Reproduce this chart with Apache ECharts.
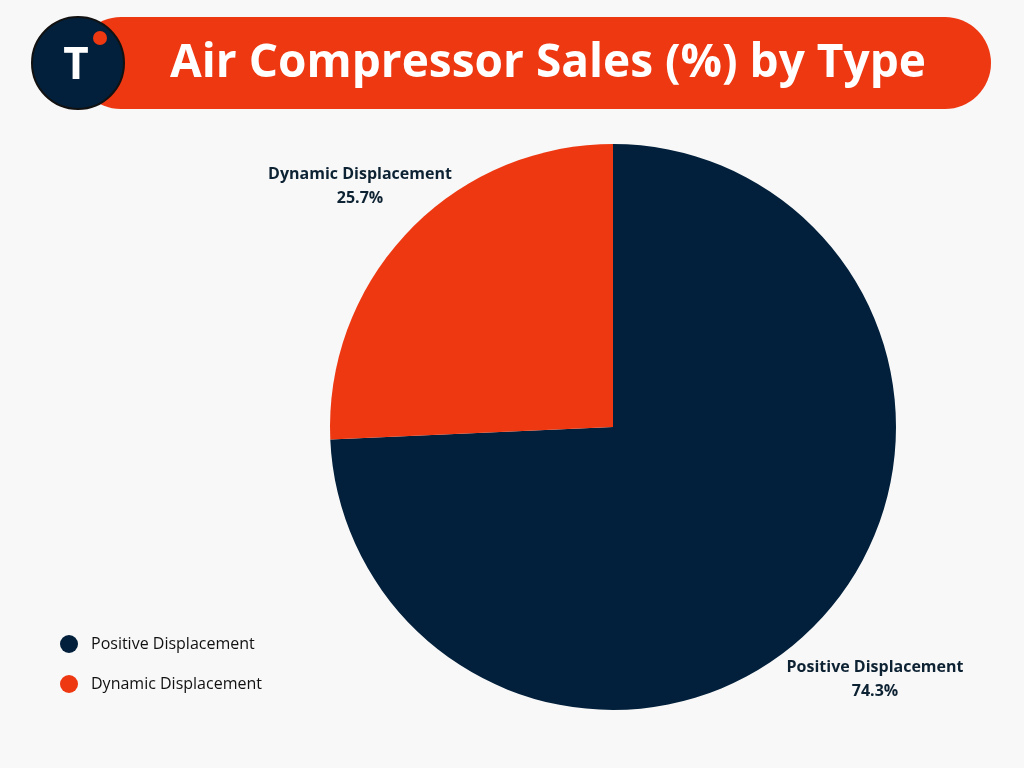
<!DOCTYPE html>
<html><head><meta charset="utf-8">
<script src="https://cdn.jsdelivr.net/npm/echarts@6/dist/echarts.min.js"></script>
<style>html,body{margin:0;background:#f8f8f8}#c{width:1024px;height:768px}</style>
</head><body><div id="c"></div>
<script>
const categories = ['Positive Displacement', 'Dynamic Displacement'];
const values = [74.3, 25.7];
const colors = ['#02203b', '#ee3811'];
const title = 'Air Compressor Sales (%) by Type';

const chart = echarts.init(document.getElementById('c'));
chart.setOption({
  backgroundColor: '#f8f8f8',
  color: colors,
  graphic: [
    {type:'rect', shape:{x:75,y:17,width:916,height:92,r:46}, style:{fill:'#ee3811'}},
    {type:'text', style:{text:title, x:548, y:64, align:'center', verticalAlign:'middle',
      font:'bold 46px "Open Sans", Lato, sans-serif', fill:'#ffffff'}},
    {type:'circle', shape:{cx:78,cy:63,r:46}, style:{fill:'#02203b', stroke:'#111', lineWidth:2}},
    {type:'text', style:{text:'T', x:76, y:66, align:'center', verticalAlign:'middle',
      font:'bold 44px "Open Sans", sans-serif', fill:'#ffffff'}},
    {type:'circle', shape:{cx:100,cy:38,r:7}, style:{fill:'#ee3811'}}
  ],
  legend: {
    orient:'vertical', left:55, top:630, itemGap:22, icon:'circle', itemWidth:18, itemHeight:18,
    textStyle:{fontSize:16, color:'#111', fontFamily:'"Open Sans", sans-serif', padding:[0,0,0,8]},
    data: categories
  },
  series: [{
    type:'pie', center:[613,427], radius:283, startAngle:90, clockwise:true,
    data: categories.map((n,i)=>({name:n, value:values[i]})),
    label:{show:true, position:'outside', formatter:'{b}\n{c}%', color:'#0d2233',
      fontSize:16, fontWeight:'bold', lineHeight:24, align:'center', fontFamily:'"Open Sans", sans-serif'},
    labelLine:{show:false, length:15, length2:0},
    labelLayout: function(p){
      return p.dataIndex === 0 ? {x:875, y:679, align:'center', verticalAlign:'middle'}
                               : {x:360, y:186, align:'center', verticalAlign:'middle'};
    },
    emphasis:{disabled:true}
  }]
});
</script></body></html>
